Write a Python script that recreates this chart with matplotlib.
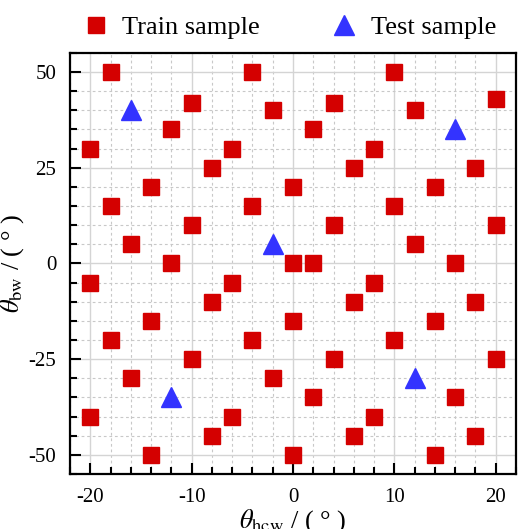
import matplotlib as mpl
mpl.use('Agg')
import matplotlib.pyplot as plt
from matplotlib.ticker import MultipleLocator

# Train / test samples (theta_hcw, theta_bw) in degrees
train_x = [-18, -4, 10, 20, -10, -2, 4, 12, -12, 2, -20, -6, 8, -8, 6, 18,
           -14, 0, 14, -18, -4, 10, -10, 4, 20, -16, 12, -12, 0, 2, 16,
           -20, -6, 8, -8, 6, 18, -14, 0, 14, -18, -4, 10, -10, 4, 20,
           -16, -2, 2, 16, -20, -6, 8, -8, 6, 18, -14, 0, 14]
train_y = [50, 50, 50, 43, 42, 40, 42, 40, 35, 35, 30, 30, 30, 25, 25, 25,
           20, 20, 20, 15, 15, 15, 10, 10, 10, 5, 5, 0, 0, 0, 0,
           -5, -5, -5, -10, -10, -10, -15, -15, -15, -20, -20, -20, -25, -25, -25,
           -30, -30, -35, -35, -40, -40, -40, -45, -45, -45, -50, -50, -50]
test_x = [-16, 16, -2, 12, -12]
test_y = [40, 35, 5, -30, -35]

plt.rcParams['font.family'] = ['Liberation Serif', 'DejaVu Serif']
plt.rcParams['mathtext.fontset'] = 'stix'
plt.rcParams['axes.unicode_minus'] = False

fig = plt.figure(figsize=(5.19, 5.29), dpi=100)
ax = fig.add_axes([0.135, 0.104, 0.859, 0.796])

ax.plot(train_x, train_y, 's', color='#d40000', ms=11.5, mec='#d40000',
        label='Train sample', zorder=3)
ax.plot(test_x, test_y, '^', color='#3333ff', ms=14, mec='#3333ff',
        label='Test sample', zorder=3)

ax.set_xlim(-22, 22)
ax.set_ylim(-55, 55)
ax.xaxis.set_major_locator(MultipleLocator(10))
ax.xaxis.set_minor_locator(MultipleLocator(2))
ax.yaxis.set_major_locator(MultipleLocator(25))
ax.yaxis.set_minor_locator(MultipleLocator(5))

ax.grid(which='major', color='#d4d4d4', lw=1.0, ls='-', zorder=0)
ax.grid(which='minor', color='#c8c8c8', lw=0.8, ls=(0, (2.5, 2.5)), zorder=0)
ax.set_axisbelow(True)

ax.tick_params(which='both', direction='in', top=False, right=False,
               labelsize=15, width=1.5)
ax.tick_params(which='major', length=8, pad=10)
ax.tick_params(which='minor', length=5)
for sp in ax.spines.values():
    sp.set_linewidth(1.6)

ax.set_xlabel(r'$\theta_{\mathrm{hcw}}$ / ( ° )', fontsize=19, labelpad=0)
ax.set_ylabel(r'$\theta_{\mathrm{bw}}$ / ( ° )', fontsize=19, labelpad=2)

fig.legend(loc='upper center', bbox_to_anchor=(0.555, 1.015), ncol=2,
           frameon=False, fontsize=19, handletextpad=0.4, columnspacing=2.6,
           markerscale=1.0, handlelength=1.2)

fig.savefig('out.png', dpi=100)
